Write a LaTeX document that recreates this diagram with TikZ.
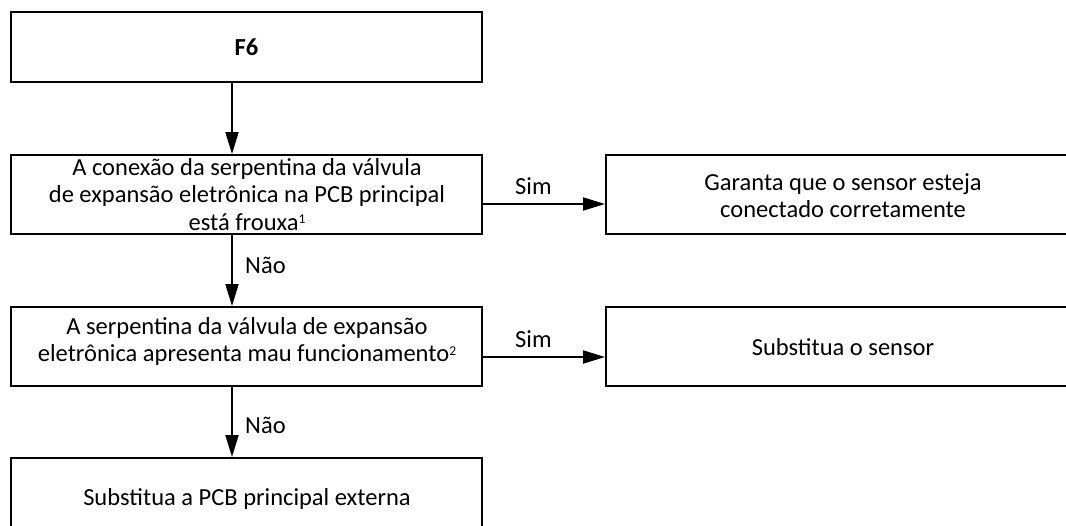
\documentclass[tikz,border=0pt]{standalone}
\usepackage{fontspec}
\setmainfont{Carlito}
\usetikzlibrary{arrows.meta}
\newcommand{\supnum}[1]{\raisebox{6.5pt}{\fontsize{13.5}{13.5}\selectfont #1}}
\newcommand{\lines}[1]{\begin{tabular}[t]{@{}c@{}}#1\end{tabular}}
\begin{document}
\begin{tikzpicture}[x=1pt,y=-1pt,
  box/.style={draw=black, line width=2pt, rectangle, inner sep=0pt},
  txt/.style={anchor=base, inner sep=0pt, font=\fontsize{24.5}{27.5}\selectfont},
  lbl/.style={anchor=base west, inner sep=0pt, font=\fontsize{24.5}{27.5}\selectfont},
  arr/.style={line width=2pt, -{Triangle[length=22pt,width=13pt]}}]
\clip (0,0) rectangle (1066,525);
% left column boxes (centre lines)
\node[box, minimum width=471pt, minimum height=69.5pt] (f6) at (246.5,46.75) {};
\node[box, minimum width=471pt, minimum height=79pt] (b2) at (246.5,194.5) {};
\node[box, minimum width=471pt, minimum height=79pt] (b4) at (246.5,346.5) {};
\node[box, minimum width=471pt, minimum height=80pt] (b6) at (246.5,498) {};
% right column boxes
\node[box, minimum width=474pt, minimum height=79pt] (r1) at (843,194.5) {};
\node[box, minimum width=474pt, minimum height=79pt] (r2) at (843,346.5) {};
% texts
\node[txt, font=\fontsize{24.5}{27.5}\selectfont\bfseries] (f6t) at (246.5,55) {F6};
\node[txt] (b2t) at (247,175) {\lines{A conexão da serpentina da válvula\\de expansão eletrônica na PCB principal\\está frouxa\supnum{1}}};
\node[txt] (b4t) at (247,334) {\lines{A serpentina da válvula de expansão\\eletrônica apresenta mau funcionamento\supnum{2}}};
\node[txt] (b6t) at (247,505) {Substitua a PCB principal externa};
\node[txt] (r1t) at (843,190) {\lines{Garanta que o sensor esteja\\conectado corretamente}};
\node[txt] (r2t) at (843,355) {Substitua o sensor};
% connector guides
\coordinate (ax) at (232,0);
\coordinate (ay1) at (0,204);
\coordinate (ay2) at (0,357);
% arrows
\draw[arr] (f6.south -| ax) -- (b2.north -| ax);
\draw[arr] (b2.south -| ax) -- (b4.north -| ax);
\draw[arr] (b4.south -| ax) -- (b6.north -| ax);
\draw[arr] (b2.east |- ay1) -- (r1.west |- ay1);
\draw[arr] (b4.east |- ay2) -- (r2.west |- ay2);
% connector labels
\node[lbl] (n1) at (245,273) {Não};
\node[lbl] (n2) at (245,433) {Não};
\node[lbl] (s1) at (515,194) {Sim};
\node[lbl] (s2) at (515,347) {Sim};
\end{tikzpicture}
\end{document}
